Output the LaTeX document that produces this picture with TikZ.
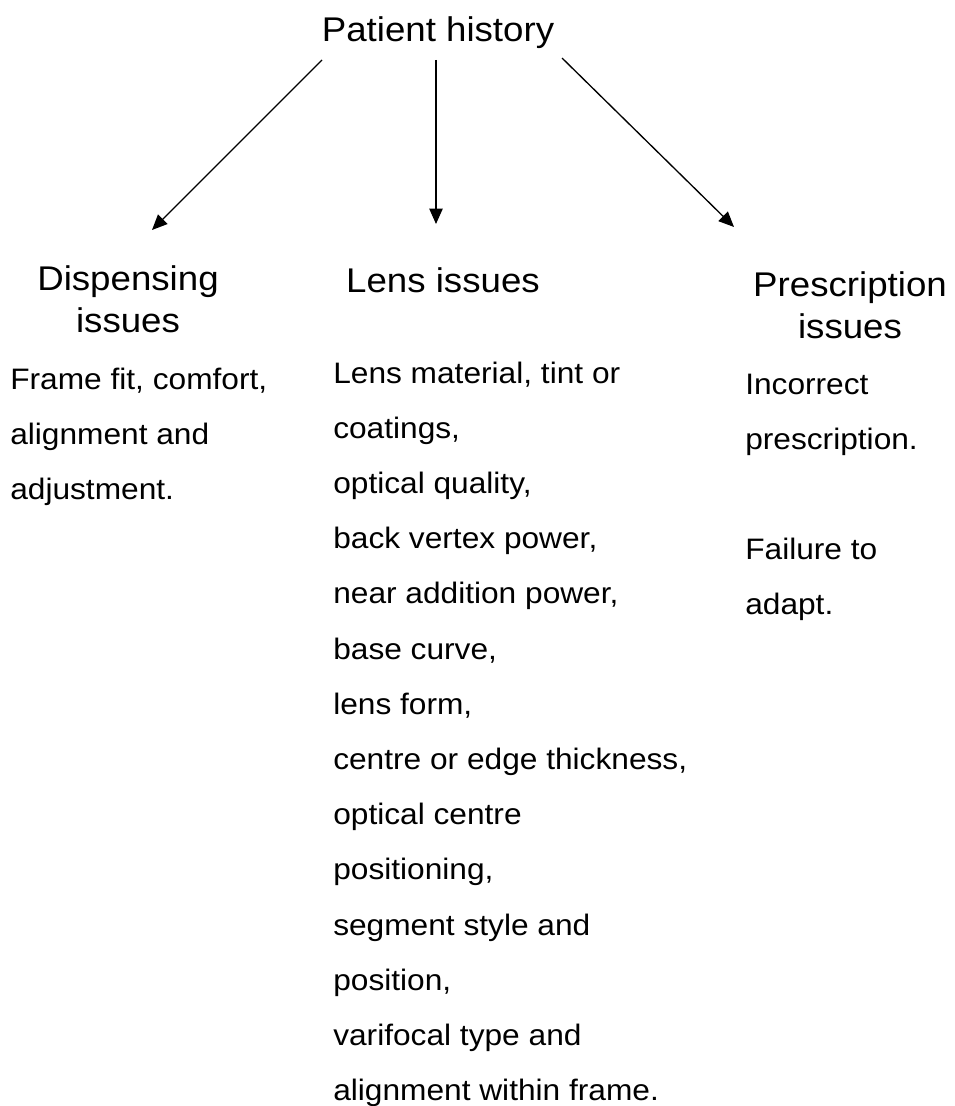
\documentclass[tikz,border=0pt]{standalone}
\usepackage{fontspec}
\setmainfont{Liberation Sans}
\usetikzlibrary{arrows.meta, positioning, calc}

\begin{document}
\begin{tikzpicture}[x=0.75pt, y=-0.75pt]
        \tikzstyle{head} = [inner sep = 0, align = center, xscale = 1.07, font = \fontsize{25.7}{31.5}\selectfont]
        \tikzstyle{body} = [inner sep = 0, anchor = base west, xscale = 1.07, font = \fontsize{22.2}{41}\selectfont]
        \tikzstyle{connect} = [-{Triangle[length=11.5pt, width=10pt]}, line width = 1pt]
        \useasboundingbox (0,0) rectangle (955,1106);
        % headings
        \node[head, anchor = base] (patient) at (438,42) {Patient history};
        \node[head, anchor = base] (disp) at (128,332) {Dispensing\\issues};
        \node[head, anchor = base] (lens) at (443,292) {Lens issues};
        \node[head, anchor = base] (presc) at (850,338) {Prescription\\issues};
        \path ($(patient.base)+(-116,18)$) edge [connect] ($(disp.base)+(24,-102)$)
              ($(patient.base)+(-2,18)$) edge [connect] ($(lens.base)+(-7,-68)$)
              ($(patient.base)+(124,16)$) edge [connect] ($(presc.base)+(-116,-111)$);
        % dispensing
        \node[body] (disp1) at (10,389) {Frame fit, comfort,};
        \node[body] (disp2) at (10,444) {alignment and};
        \node[body] (disp3) at (10,499) {adjustment.};
        % lens
        \foreach \txt [count=\i from 0] in {{Lens material, tint or}, {coatings,}, {optical quality,},
            {back vertex power,}, {near addition power,}, {base curve,}, {lens form,},
            {centre or edge thickness,}, {optical centre}, {positioning,}, {segment style and},
            {position,}, {varifocal type and}, {alignment within frame.}}
          \node[body] (lens\i) at (333,{383+55.2*\i}) {\txt};
        % prescription
        \node[body] (presc1) at (745,394) {Incorrect};
        \node[body] (presc2) at (745,449) {prescription.};
        \node[body] (presc3) at (745,559) {Failure to};
        \node[body] (presc4) at (745,614) {adapt.};
      \end{tikzpicture}
\end{document}
